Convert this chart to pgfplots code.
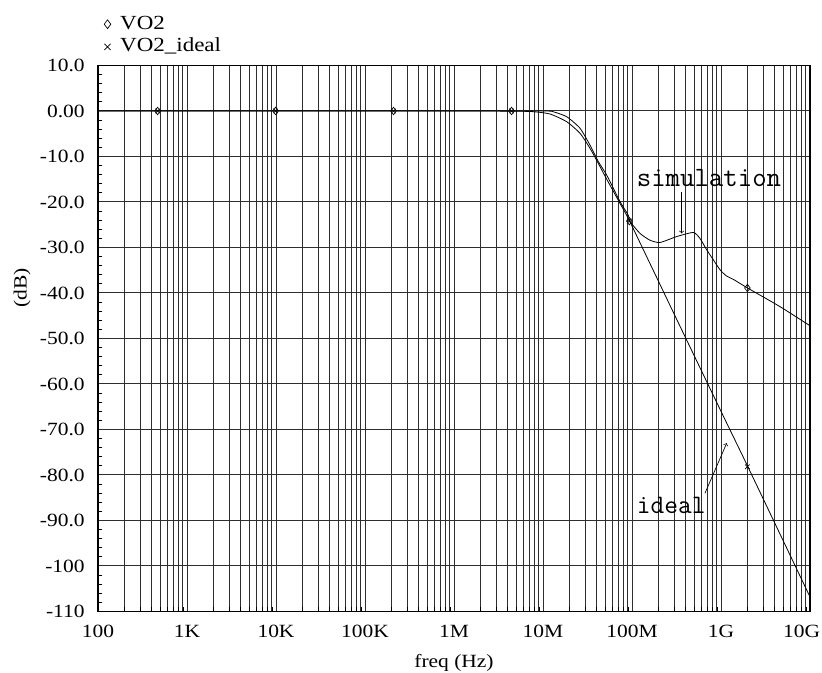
\documentclass[border=0pt]{standalone}
\usepackage{fontspec}
\setmainfont{Liberation Serif}[FakeStretch=1.15]
\usepackage{pgfplots}
\pgfplotsset{compat=1.18}
\begin{document}
\begin{tikzpicture}
\path[use as bounding box] (0,0) rectangle (616.5pt,504.75pt);
\begin{axis}[
  at={(73.5pt,46.125pt)}, anchor=south west,
  scale only axis, width=534pt, height=409.5pt,
  xmode=log, log basis x=10,
  xmin=100, xmax=1e10, ymin=-110, ymax=10,
  xtick={1e2,1e3,1e4,1e5,1e6,1e7,1e8,1e9,1e10},
  xticklabels={100,1K,10K,100K,1M,10M,100M,1G,\makebox[15pt][r]{10G}},
  minor xtick={200,300,400,500,600,700,800,900,
    2000,3000,4000,5000,6000,7000,8000,9000,
    2e4,3e4,4e4,5e4,6e4,7e4,8e4,9e4,
    2e5,3e5,4e5,5e5,6e5,7e5,8e5,9e5,
    2e6,3e6,4e6,5e6,6e6,7e6,8e6,9e6,
    2e7,3e7,4e7,5e7,6e7,7e7,8e7,9e7,
    2e8,3e8,4e8,5e8,6e8,7e8,8e8,9e8,
    2e9,3e9,4e9,5e9,6e9,7e9,8e9,9e9},
  ytick={-110,-100,-90,-80,-70,-60,-50,-40,-30,-20,-10,0,10},
  yticklabels={-110,-100,-90.0,-80.0,-70.0,-60.0,-50.0,-40.0,-30.0,-20.0,-10.0,0.00,10.0},
  minor ytick={-108,-106,-104,-102,-98,-96,-94,-92,-88,-86,-84,-82,-78,-76,-74,-72,-68,-66,-64,-62,-58,-56,-54,-52,-48,-46,-44,-42,-38,-36,-34,-32,-28,-26,-24,-22,-18,-16,-14,-12,-8,-6,-4,-2,2,4,6,8},
  xmajorgrids=true, xminorgrids=true, ymajorgrids=true, yminorgrids=false,
  major grid style={black!82, line width=0.75pt},
  minor grid style={black!82, line width=0.75pt},
  axis line style={black, line width=0.8pt},
  tick align=inside, tick pos=left,
  major tick length=0pt, minor tick length=3pt,
  every tick/.style={black, line width=0.6pt},
  /pgf/number format/assume math mode=true,
  tick label style={font=\fontsize{14}{16}\selectfont},
  yticklabel style={xshift=-6.5pt},
  xticklabel style={yshift=-7pt},
  xlabel={freq (Hz)},
  ylabel={(dB)},
  label style={font=\fontsize{14}{16}\selectfont},
  xlabel style={at={(axis description cs:0.5,-0.0943)}, anchor=center},
  ylabel style={at={(axis description cs:-0.1067,0.5925)}, anchor=center},
  legend image code/.code={\path[draw=none,fill=none] (-4pt,0pt) -- (8.5pt,0pt); \draw[#1, mark size=3.3pt] plot coordinates {(0pt,0pt)};},
  legend style={at={(axis description cs:0.0055,1.095)}, anchor=north west,
    draw=none, fill=none, inner sep=0pt, row sep=1.5pt,
    nodes={inner sep=1pt, text height=10.5pt, text depth=3pt},
    font=\fontsize{15}{17}\selectfont},
  legend cell align=left,
]
% simulation (VO2)
\addplot[black, line width=0.6pt, smooth, tension=0.35, forget plot] coordinates {
 (100,0) (1e6,0) (5e6,0) (1e7,-0.02) (1.253e7,-0.07) (1.845e7,-1.25)
 (2.606e7,-3.8) (3.373e7,-7.5) (4.178e7,-11.1) (5.2e7,-14.1) (7.328e7,-19.9)
 (9.078e7,-22.9) (9.506e7,-24.3) (1.23e8,-26.9) (1.592e8,-28.4) (2.065e8,-28.9)
 (3.177e8,-27.6) (4.89e8,-26.7) (5.8e8,-28.0) (6.9e8,-30.5) (8.19e8,-32.7)
 (9.75e8,-34.9) (1.159e9,-36.3) (1.374e9,-37.0) (2.028e9,-39.0) (4.603e9,-43.0) (1e10,-47.2)
};
% ideal
\addplot[black, line width=0.6pt, smooth, tension=0.35, forget plot] coordinates {
 (100,0) (1e6,0) (5e6,-0.05) (7.78e6,-0.15) (1.199e7,-0.66) (1.845e7,-2.35)
 (2.606e7,-4.9) (3.373e7,-8.2) (4.178e7,-11.5) (5.2e7,-15.0) (7.328e7,-20.3)
 (9.506e7,-24.4) (3.162e8,-45.7) (1e9,-66.0) (2.028e9,-78.4) (1e10,-106.8)
};
\addplot[only marks, mark=diamond, mark size=2.8pt, black, line width=0.5pt]
  coordinates {(467,0) (9.88e3,0) (2.09e5,0) (4.43e6,0) (9.33e7,-24.2) (1.98e9,-38.9)};
\addlegendentry{VO2}
\addplot[only marks, mark=x, mark size=2.4pt, black, line width=0.5pt]
  coordinates {(467,0) (9.88e3,0) (2.09e5,0) (4.43e6,0) (9.33e7,-24.2) (1.98e9,-78.2)};
\addlegendentry{VO2\_ideal}
\node[anchor=base west, inner sep=0pt, font=\fontsize{21}{21}\ttfamily] at (axis cs:1.127e8,-16.6) {simulation};
\draw[->, line width=0.5pt] (axis cs:3.61e8,-17.7) -- (axis cs:3.61e8,-26.9);
\node[anchor=base west, inner sep=0pt, font=\fontsize{20}{20}\ttfamily] at (axis cs:1.127e8,-88.4) {ideal};
\draw[->, line width=0.5pt] (axis cs:6.61e8,-84.0) -- (axis cs:1.159e9,-73.0);
\end{axis}
\end{tikzpicture}
\end{document}
